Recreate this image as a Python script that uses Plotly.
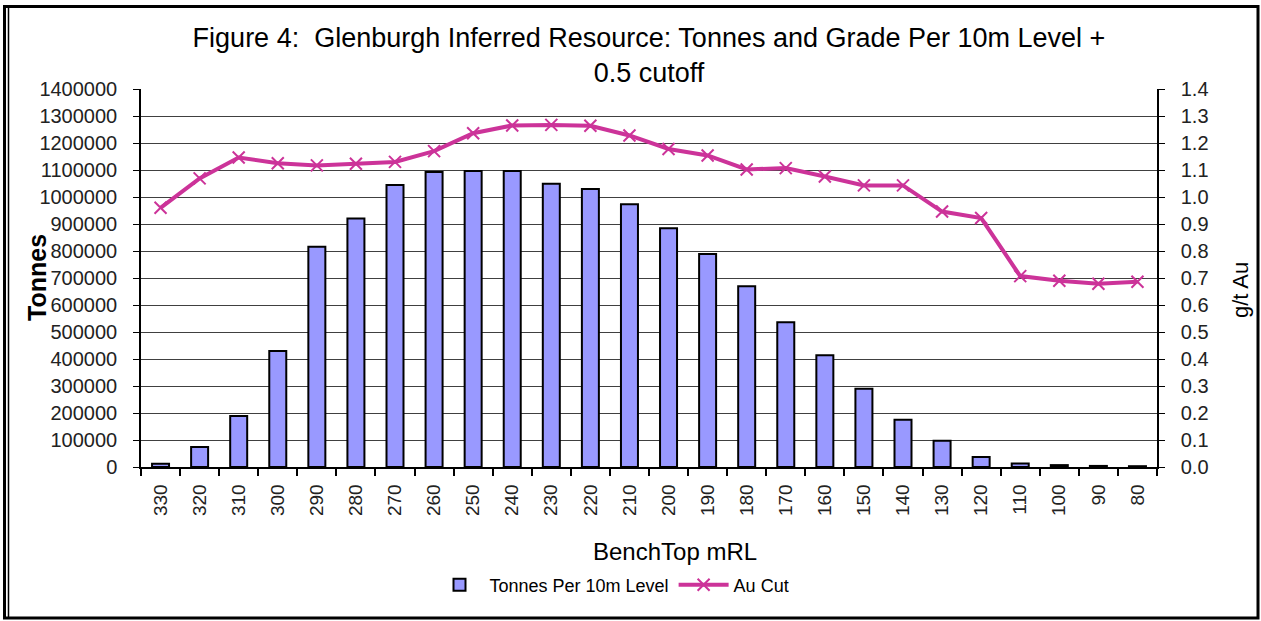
import plotly.graph_objects as go

bench_levels = ["330", "320", "310", "300", "290", "280", "270", "260", "250", "240",
                "230", "220", "210", "200", "190", "180", "170", "160", "150", "140",
                "130", "120", "110", "100", "90", "80"]
tonnes = [12000, 74000, 189000, 430000, 816000, 920000, 1044000, 1093000, 1096000, 1096000,
          1049000, 1030000, 973000, 884000, 789000, 669000, 536000, 414000, 290000, 175000,
          97000, 37000, 13000, 7000, 4000, 3000]
au_cut = [0.96, 1.069, 1.146, 1.125, 1.117, 1.123, 1.13, 1.17, 1.236, 1.265,
          1.267, 1.264, 1.228, 1.178, 1.154, 1.102, 1.107, 1.076, 1.043, 1.043,
          0.946, 0.922, 0.707, 0.69, 0.679, 0.686]

W, H = 1261, 621
L, R, T, B = 141, 1157, 89, 467
FONT = "Liberation Sans, Arial, sans-serif"
N = len(bench_levels)

def px(x):
    return (x - L) / (R - L)

def py(y):
    return (B - y) / (B - T)

fig = go.Figure()
fig.add_trace(go.Bar(
    x=bench_levels, y=tonnes, name="Tonnes Per 10m Level",
    marker=dict(color="#9999FF", line=dict(color="black", width=2)),
    yaxis="y",
))
fig.add_trace(go.Scatter(
    x=bench_levels, y=au_cut, name="Au Cut", mode="lines+markers",
    line=dict(color="#CC3399", width=4),
    marker=dict(symbol="x-thin", size=12, line=dict(color="#CC3399", width=2), color="#CC3399"),
    yaxis="y2",
))

fig.update_layout(
    width=W, height=H,
    margin=dict(l=L, r=W - R, t=T, b=H - B),
    paper_bgcolor="white", plot_bgcolor="white",
    font=dict(family=FONT, color="black", size=18),
    bargap=0.565,
    showlegend=True,
    title=dict(
        text="Figure 4:  Glenburgh Inferred Resource: Tonnes and Grade Per 10m Level +<br>0.5 cutoff",
        xref="paper", x=px(649), xanchor="center",
        yref="container", y=1 - 47 / H, yanchor="middle",
        font=dict(family=FONT, size=27, color="black"),
    ),
    xaxis=dict(
        type="category", tickangle=-90, tickson="boundaries",
        range=[-0.5, N - 0.5],
        ticks="outside", ticklen=7, tickcolor="black", tickwidth=1.5,
        showline=True, linecolor="black", linewidth=1.5,
        showgrid=False, tickfont=dict(size=19, family=FONT, color="#222"),
        ticklabelstandoff=8,
    ),
    xaxis2=dict(
        overlaying="x", anchor="y", side="bottom",
        range=[-0.5, N - 0.5], tick0=-0.5, dtick=1,
        ticks="inside", ticklen=7, tickcolor="black", tickwidth=1.5,
        showticklabels=False, showgrid=False, showline=False, zeroline=False,
    ),
    yaxis=dict(
        range=[0, 1400000], dtick=100000, tickformat="d",
        showgrid=True, gridcolor="#404040", gridwidth=1,
        showline=True, linecolor="black", linewidth=1.5,
        ticks="outside", ticklen=6, tickcolor="black",
        tickfont=dict(size=20, family=FONT, color="#222"),
        zeroline=False, ticklabelstandoff=12,
    ),
    yaxis2=dict(
        range=[0, 1.4], dtick=0.1, tickformat=".1f",
        overlaying="y", side="right",
        showgrid=False, showline=True, linecolor="black", linewidth=1.5,
        ticks="outside", ticklen=6, tickcolor="black",
        tickfont=dict(size=20, family=FONT, color="#222"),
        zeroline=False, ticklabelstandoff=12,
    ),
    legend=dict(
        orientation="h", x=px(612), xanchor="center",
        yref="container", y=1 - 585 / H, yanchor="middle",
        font=dict(size=18, family=FONT, color="black"),
        bgcolor="rgba(0,0,0,0)", itemwidth=50,
    ),
    annotations=[
        dict(text="BenchTop mRL", xref="paper", yref="paper", x=px(675), y=py(551),
             showarrow=False, font=dict(size=24, family=FONT, color="black"),
             xanchor="center", yanchor="middle"),
        dict(text="<b>Tonnes</b>", xref="paper", yref="paper", x=px(37), y=py(278),
             showarrow=False, textangle=-90, font=dict(size=25, family=FONT, color="black"),
             xanchor="center", yanchor="middle"),
        dict(text="g/t Au", xref="paper", yref="paper", x=px(1240), y=py(290),
             showarrow=False, textangle=-90, font=dict(size=22, family=FONT, color="black"),
             xanchor="center", yanchor="middle"),
    ],
    shapes=[
        dict(type="rect", xref="paper", yref="paper",
             x0=px(4.5), x1=px(1258), y0=py(618), y1=py(6.5),
             line=dict(color="black", width=3)),
        dict(type="line", xref="paper", yref="paper",
             x0=px(8.5), x1=px(8.5), y0=py(618), y1=py(6.5),
             line=dict(color="black", width=1.5)),
    ],
)

fig.write_html(
    "out.html",
    config={"displayModeBar": False},
    post_script="document.body.style.margin='0';document.body.style.overflow='hidden';",
)
